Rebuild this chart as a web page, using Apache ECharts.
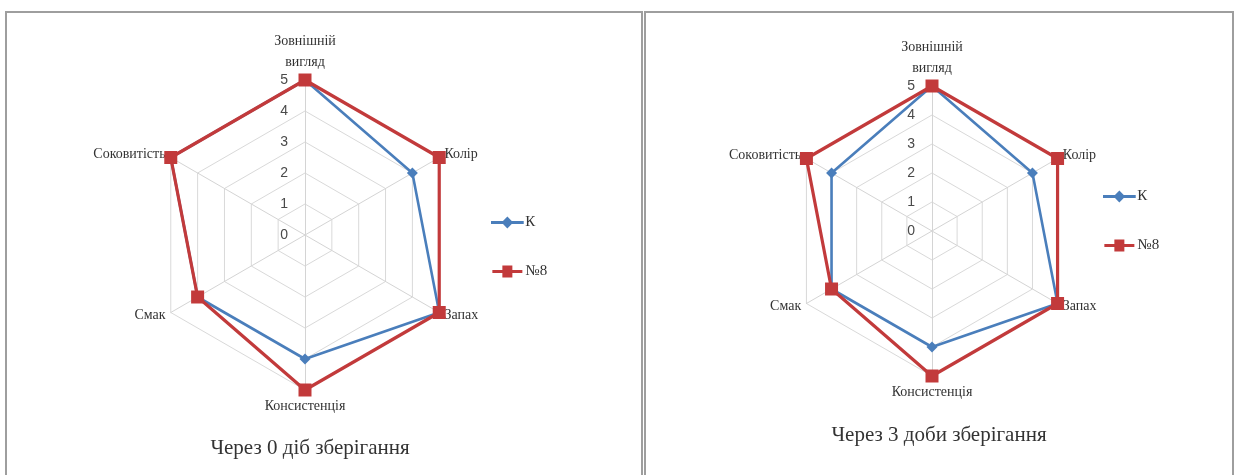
<!DOCTYPE html>
<html><head><meta charset="utf-8">
<script src="https://cdn.jsdelivr.net/npm/echarts@6/dist/echarts.min.js"></script>
<style>html,body{margin:0;padding:0;background:#fff;} #c{width:1238px;height:475px;}</style>
</head><body><div id="c"></div>
<script>
// ---- data ----
const categories = ['Зовнішній\nвигляд', 'Колір', 'Запах', 'Консистенція', 'Смак', 'Соковитість'];
const seriesNames = ['К', '№8'];
const day0K  = [5, 4, 5, 4, 4, 5];
const day0N8 = [5, 5, 5, 5, 4, 5];
const day3K  = [5, 4, 5, 4, 4, 4];
const day3N8 = [5, 5, 5, 5, 4, 5];
const axisMin = 0, axisMax = 5, axisSplits = 5;
const titles = ['Через 0 діб зберігання', 'Через 3 доби зберігання'];

// ECharts lays radar indicators counter-clockwise; reorder so they run clockwise from the top
const order = [0, 5, 4, 3, 2, 1];
const reorder = arr => order.map(i => arr[i]);

const BLUE = '#4a7ebb', RED = '#c23a3b';
const SERIF = '"Liberation Serif","Times New Roman",serif';

function radarCfg(center, radius) {
  return {
    center: center, radius: radius, startAngle: 90, shape: 'polygon', splitNumber: axisSplits,
    indicator: order.map((i, k) => {
      const ind = { name: categories[i], min: axisMin, max: axisMax };
      if (k === 0) ind.axisLabel = { show: true, color: '#4a4a4a', fontSize: 14, fontFamily: '"Liberation Sans",Arial,sans-serif', margin: 17 };
      return ind;
    }),
    axisName: { color: '#333333', fontFamily: SERIF, fontSize: 14, lineHeight: 21 },
    nameGap: 6,
    splitLine: { lineStyle: { color: '#d9d9d9', width: 1 } },
    splitArea: { show: false },
    axisLine: { lineStyle: { color: '#d4d4d4', width: 1 } },
    axisTick: { show: false },
    axisLabel: { show: false }
  };
}

function item(name, vals, color, symbol, size, width) {
  return {
    name: name, value: reorder(vals), symbol: symbol, symbolSize: size,
    itemStyle: { color: color },
    lineStyle: { color: color, width: width }
  };
}

const iconDiamond = 'path://M0,4.6H11L15,0.5L19,4.6H30V7.4H19L15,11.5L11,7.4H0Z';
const iconSquare = 'path://M0,4.5H10V0H20V4.5H30V7.5H20V12H10V7.5H0Z';

function legendCfg(left, top) {
  return {
    orient: 'vertical', left: left, top: top, itemGap: 34, itemWidth: 34, itemHeight: 12,
    selectedMode: false,
    data: [
      { name: seriesNames[0], icon: iconDiamond },
      { name: seriesNames[1], icon: iconSquare }
    ],
    textStyle: { color: '#333333', fontFamily: SERIF, fontSize: 15, padding: [0, 0, 0, -4] }
  };
}

const chart = echarts.init(document.getElementById('c'), null, { renderer: 'canvas' });
chart.setOption({
  backgroundColor: '#ffffff',
  animation: false,
  title: [
    { text: titles[0], left: 305, top: 433, textAlign: 'center', textStyle: { fontFamily: SERIF, fontSize: 21, fontWeight: 'normal', color: '#333' } },
    { text: titles[1], left: 934, top: 420, textAlign: 'center', textStyle: { fontFamily: SERIF, fontSize: 21, fontWeight: 'normal', color: '#333' } }
  ],
  legend: [legendCfg(486, 210), legendCfg(1098, 184)],
  radar: [radarCfg([305, 235], 155), radarCfg([932, 231], 145)],
  series: [
    { type: 'radar', radarIndex: 0, data: [
      item(seriesNames[0], day0K, BLUE, 'diamond', 11, 2.6),
      item(seriesNames[1], day0N8, RED, 'rect', 13, 3.2)
    ] },
    { type: 'radar', radarIndex: 1, data: [
      item(seriesNames[0], day3K, BLUE, 'diamond', 11, 2.6),
      item(seriesNames[1], day3N8, RED, 'rect', 13, 3.2)
    ] }
  ],
  graphic: [
    { type: 'rect', shape: { x: 6, y: 12, width: 636, height: 480 }, style: { fill: null, stroke: '#9e9e9e', lineWidth: 2 }, silent: true },
    { type: 'rect', shape: { x: 645, y: 12, width: 588, height: 480 }, style: { fill: null, stroke: '#9e9e9e', lineWidth: 2 }, silent: true }
  ]
});
</script>
</body></html>
